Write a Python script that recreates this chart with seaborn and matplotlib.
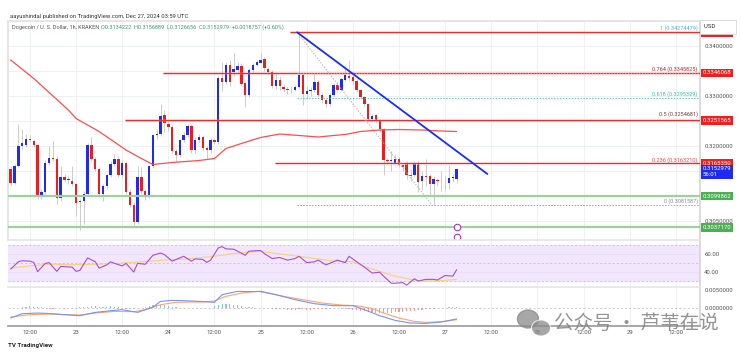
import numpy as np
import pandas as pd
import matplotlib
matplotlib.use("Agg")
import matplotlib.pyplot as plt
import matplotlib.transforms as mtransforms
from matplotlib.patches import Ellipse
import seaborn as sns

sns.set_theme(style="white")
plt.rcParams['font.family'] = ['Roboto', 'Noto Sans CJK SC', 'DejaVu Sans']

# DOGE/USD 1h candles, 22 Dec 07:00 -> 27 Dec 03:00 (index 0..116)
opens = [0.3155, 0.3127, 0.3161, 0.3200, 0.3203, 0.3215, 0.3210, 0.3202, 0.3099, 0.3109,
         0.3167, 0.3177, 0.3175, 0.3097, 0.3139, 0.3132, 0.3131, 0.3124, 0.3088, 0.3090,
         0.3105, 0.3203, 0.3174, 0.3155, 0.3104, 0.3121, 0.3142, 0.3165, 0.3174, 0.3142,
         0.3166, 0.3109, 0.3083, 0.3049, 0.3139, 0.3111, 0.3100, 0.3160, 0.3222, 0.3224,
         0.3262, 0.3245, 0.3238, 0.3190, 0.3182, 0.3212, 0.3223, 0.3240, 0.3192, 0.3213,
         0.3219, 0.3197, 0.3192, 0.3213, 0.3208, 0.3337, 0.3329, 0.3362, 0.3349, 0.3353,
         0.3360, 0.3325, 0.3302, 0.3352, 0.3363, 0.3367, 0.3373, 0.3355, 0.3349, 0.3320,
         0.3333, 0.3319, 0.3314, 0.3312, 0.3313, 0.3319, 0.3342, 0.3305, 0.3310, 0.3312,
         0.3328, 0.3302, 0.3293, 0.3284, 0.3303, 0.3322, 0.3313, 0.3333, 0.3341, 0.3338,
         0.3330, 0.3311, 0.3298, 0.3284, 0.3254, 0.3261, 0.3251, 0.3234, 0.3172, 0.3170,
         0.3167, 0.3174, 0.3162, 0.3165, 0.3142, 0.3142, 0.3167, 0.3130, 0.3141, 0.3140,
         0.3124, 0.3133, 0.3131, 0.3130, 0.3126, 0.3136, 0.3134]
highs = [0.3160, 0.3165, 0.3245, 0.3235, 0.3225, 0.3222, 0.3215, 0.3205, 0.3115, 0.3172,
         0.3200, 0.3210, 0.3180, 0.3160, 0.3145, 0.3140, 0.3160, 0.3127, 0.3095, 0.3110,
         0.3207, 0.3219, 0.3178, 0.3158, 0.3125, 0.3145, 0.3170, 0.3185, 0.3180, 0.3172,
         0.3170, 0.3115, 0.3088, 0.3160, 0.3158, 0.3115, 0.3163, 0.3225, 0.3232, 0.3285,
         0.3272, 0.3250, 0.3242, 0.3195, 0.3215, 0.3228, 0.3244, 0.3244, 0.3218, 0.3224,
         0.3222, 0.3200, 0.3216, 0.3216, 0.3340, 0.3368, 0.3368, 0.3372, 0.3385, 0.3368,
         0.3365, 0.3328, 0.3355, 0.3367, 0.3372, 0.3385, 0.3378, 0.3358, 0.3352, 0.3348,
         0.3340, 0.3325, 0.3318, 0.3320, 0.3322, 0.34274, 0.3346, 0.3320, 0.3318, 0.3345,
         0.3332, 0.3306, 0.3297, 0.3306, 0.3326, 0.3328, 0.3336, 0.3360, 0.3372, 0.3342,
         0.3334, 0.3314, 0.3300, 0.3286, 0.3265, 0.3264, 0.3254, 0.3237, 0.3176, 0.3190,
         0.3185, 0.3178, 0.3165, 0.3170, 0.3155, 0.3170, 0.3170, 0.3150, 0.3175, 0.3145,
         0.3140, 0.3137, 0.3150, 0.3140, 0.3162, 0.3145, 0.3157]
lows = [0.3122, 0.3124, 0.3158, 0.3195, 0.3198, 0.3208, 0.3198, 0.3095, 0.3095, 0.3105,
        0.3162, 0.3170, 0.3085, 0.3090, 0.3128, 0.3125, 0.3120, 0.3060, 0.3032, 0.3045,
        0.3100, 0.3170, 0.3150, 0.3098, 0.3090, 0.3115, 0.3138, 0.3160, 0.3138, 0.3138,
        0.3105, 0.3078, 0.3043, 0.3045, 0.3105, 0.3092, 0.3097, 0.3156, 0.3215, 0.3220,
        0.3228, 0.3230, 0.3186, 0.3170, 0.3178, 0.3208, 0.3218, 0.3186, 0.3186, 0.3208,
        0.3192, 0.3175, 0.3186, 0.3204, 0.3204, 0.3309, 0.3325, 0.3320, 0.3340, 0.3348,
        0.3320, 0.3279, 0.3298, 0.3348, 0.3360, 0.3365, 0.3350, 0.3344, 0.3316, 0.3315,
        0.3312, 0.3308, 0.3305, 0.3306, 0.3309, 0.3316, 0.3282, 0.3295, 0.3300, 0.3308,
        0.3298, 0.3287, 0.3278, 0.3280, 0.3299, 0.3308, 0.3310, 0.3330, 0.3332, 0.3325,
        0.3308, 0.3294, 0.3280, 0.3250, 0.3250, 0.3247, 0.3229, 0.3143, 0.3165, 0.3150,
        0.3163, 0.3158, 0.3150, 0.3135, 0.3130, 0.3138, 0.3109, 0.3112, 0.3120, 0.3100,
        0.30816, 0.3120, 0.3110, 0.3112, 0.3115, 0.3128, 0.3127]
closes = [0.3127, 0.3161, 0.3201, 0.3207, 0.3215, 0.3212, 0.3202, 0.3099, 0.3109, 0.3167,
          0.3177, 0.3175, 0.3097, 0.3139, 0.3132, 0.3134, 0.3124, 0.3087, 0.3090, 0.3105,
          0.3203, 0.3174, 0.3155, 0.3104, 0.3121, 0.3142, 0.3165, 0.3174, 0.3142, 0.3166,
          0.3109, 0.3083, 0.3049, 0.3139, 0.3111, 0.3100, 0.3160, 0.3222, 0.3224, 0.3260,
          0.3246, 0.3238, 0.3190, 0.3182, 0.3212, 0.3223, 0.3240, 0.3192, 0.3213, 0.3219,
          0.3197, 0.3192, 0.3213, 0.3208, 0.3337, 0.3329, 0.3362, 0.3329, 0.3355, 0.3360,
          0.3324, 0.3302, 0.3352, 0.3363, 0.3367, 0.3372, 0.3355, 0.3349, 0.3320, 0.3332,
          0.3320, 0.3314, 0.3312, 0.3313, 0.3319, 0.3342, 0.3305, 0.3310, 0.3312, 0.3328,
          0.3302, 0.3293, 0.3284, 0.3303, 0.3322, 0.3313, 0.3333, 0.3341, 0.3336, 0.3330,
          0.3312, 0.3298, 0.3284, 0.3254, 0.3261, 0.3251, 0.3234, 0.3172, 0.3171, 0.3172,
          0.3175, 0.3162, 0.3159, 0.3142, 0.3141, 0.3167, 0.3129, 0.3141, 0.3139, 0.3124,
          0.3133, 0.3131, 0.3130, 0.3131, 0.3136, 0.3139, 0.3153]

# 100 SMA (read at a few candles)
ma_idx = [0, 6, 15, 17, 23, 30, 34, 37, 42, 49, 53, 56, 60, 65, 70, 75, 80, 84, 87, 91, 96, 101, 107, 112, 116]
ma_vals = [0.3372, 0.3335, 0.3272, 0.3255, 0.3229, 0.3192, 0.3175, 0.3163, 0.3167, 0.3171, 0.3175,
           0.3195, 0.3205, 0.3217, 0.3224, 0.3221, 0.3218, 0.3221, 0.3223, 0.3229, 0.3232, 0.3233,
           0.3232, 0.3230, 0.3229]

# RSI(14) and its MA
rsi_idx = [0, 2, 3, 5, 6, 7, 9, 10, 12, 13, 16, 17, 18, 20, 22, 23, 25, 26, 27, 29, 30, 32, 33, 35,
           37, 39, 40, 42, 44, 45, 47, 48, 50, 51, 52, 54, 55, 56, 58, 61, 62, 65, 66, 68, 70, 72,
           74, 75, 77, 79, 80, 82, 84, 85, 87, 88, 90, 92, 94, 96, 97, 99, 100, 102, 103, 105, 106,
           108, 110, 111, 113, 115, 116]
rsi_vals = [43.2, 51.4, 52.5, 52.1, 50.7, 40.4, 49.6, 50.4, 40.7, 46.1, 45.4, 40.7, 41.8, 55.7, 51.4,
            44.3, 47.9, 51.4, 49.6, 46.8, 49.6, 40.0, 49.6, 48.6, 58.6, 61.1, 59.3, 52.1, 55.7, 57.5,
            52.1, 54.6, 53.9, 50.7, 53.2, 66.8, 68.2, 65.7, 65.4, 58.6, 63.2, 63.9, 60.4, 55.0, 56.1,
            53.2, 55.0, 57.5, 50.4, 51.4, 53.2, 47.9, 51.4, 53.2, 50.4, 57.5, 51.4, 45.4, 38.9, 39.7,
            35.4, 27.5, 27.5, 28.2, 25.4, 32.5, 30.0, 31.8, 31.8, 31.1, 36.1, 35.4, 42.5]
rsi_ma_idx = [0, 5, 10, 16, 22, 28, 34, 40, 47, 53, 59, 65, 71, 78, 84, 89, 92, 96, 100, 104, 106, 110, 113, 116]
rsi_ma_vals = [44.3, 46.8, 48.6, 48.2, 48.6, 49.6, 51.4, 53.2, 55.0, 57.5, 61.1, 62.9, 59.6, 55.7,
               52.1, 51.4, 46.1, 40.7, 35.4, 31.8, 30.0, 30.0, 30.7, 31.8]

# MACD(12, 26, 9)
macd_idx = [0, 3, 7, 11, 14, 18, 22, 26, 29, 33, 37, 39, 42, 45, 49, 53, 55, 59, 63, 65, 69, 74, 79,
            84, 89, 92, 96, 100, 104, 108, 112, 116]
macd_vals = [-0.00278, -0.00158, -0.00140, -0.00158, -0.00186, -0.00214, -0.00122, -0.00075,
             -0.00047, -0.00122, 0.00027, 0.00184, 0.00212, 0.00203, 0.00184, 0.00157, 0.00370,
             0.00462, 0.00453, 0.00462, 0.00370, 0.00231, 0.00120, 0.00064, 0.00064, -0.00047,
             -0.00214, -0.00344, -0.00417, -0.00427, -0.00390, -0.00306]
signal_idx = [0, 5, 10, 14, 18, 22, 27, 32, 35, 39, 43, 47, 50, 53, 56, 60, 64, 66, 71, 76, 81, 86,
              90, 94, 97, 101, 105, 108, 112, 116]
signal_vals = [-0.00250, -0.00186, -0.00167, -0.00186, -0.00195, -0.00140, -0.00094, -0.00103,
               -0.00047, 0.00092, 0.00157, 0.00166, 0.00166, 0.00194, 0.00323, 0.00416, 0.00462,
               0.00434, 0.00323, 0.00231, 0.00139, 0.00083, 0.00064, -0.00011, -0.00140, -0.00278,
               -0.00372, -0.00400, -0.00381, -0.00325]
hist_e4 = [-1, -0.5, 0, 3, 4, 5, 4, 3, 2, -1, -2, -2, -1, -1, -2, -1, 0,
           1, 2, 3, 4, 5, 5, 4, 3, 4, 5, 3, 2, -1, -2, -3, -2, -1, 0, 2,
           5, 8, 9, 8, 7, 5, 3, 2, 1, 1, 0, -1, -1, 0, 0, 1, 1,
           5, 9, 12, 11, 10, 8, 7, 5, 4, 3, 2, 1, 0, 0,
           -1, -2, -3, -4, -4, -5, -5, -5, -4, -4, -5, -5, -4, -3, -3, -2, -2, -1, -1, -2,
           -3, -4, -5, -6, -7, -8, -10, -12, -14, -15, -15, -14, -13, -12, -11, -10, -9, -8,
           -7, -6, -5, -4, -3, -2, -1, 0, 1, 2, 3, 4]

# drawings
fib_labels = ['1 (0.34274479)', '0.764 (0.3345825)', '0.618 (0.3295329)', '0.5 (0.3254681)',
              '0.236 (0.3163210)', '0 (0.3081587)']
fib_prices = [0.34274479, 0.3345825, 0.3295329, 0.3254681, 0.3163210, 0.3081587]
fib_colors = ['#5aa9e6', '#b02a2a', '#3fbf9f', '#7a3b3b', '#e04848', '#8c8c8c']
fib_start = 74.5
res_prices = [0.34274479, 0.3346068, 0.3251565, 0.3165350]
res_start = [72.7, 39.6, 29.7, 68.7]
sup_prices = [0.3099862, 0.3037170]
trend_x = [74.5, 124.0]
trend_y = [0.34274, 0.3144]
diag_x = [74.5, 109.6]
diag_y = [0.34274, 0.30816]
last_price = 0.3152979

time_ticks = [5, 17, 29, 41, 53, 65, 77, 89, 101, 113, 125, 137, 149, 161, 173]
time_labels = ['12:00', '23', '12:00', '24', '12:00', '25', '12:00', '26', '12:00', '27',
               '12:00', '28', '12:00', '29', '12:00']

df = pd.DataFrame({'i': np.arange(len(closes)), 'open': opens, 'high': highs,
                   'low': lows, 'close': closes})
df['up'] = df['close'] >= df['open']
df['bottom'] = df[['open', 'close']].min(axis=1)
df['body'] = (df['close'] - df['open']).abs().clip(lower=0.00008)

W, H = 741, 354
fig = plt.figure(figsize=(W / 100, H / 100), dpi=100)
fig.patch.set_facecolor('white')


def rect(x0, y0, x1, y1):
    return [x0 / W, 1 - y1 / H, (x1 - x0) / W, (y1 - y0) / H]


ax = fig.add_axes(rect(8, 21, 700, 240))
ax_rsi = fig.add_axes(rect(8, 240, 700, 287), sharex=ax)
ax_macd = fig.add_axes(rect(8, 287, 700, 326), sharex=ax)
xmin, xmax = -0.7, 179.3
grid_c = '#eff0f2'
lab_c = '#555555'
fs = 4.3

for a in (ax, ax_rsi, ax_macd):
    a.set_facecolor('white')
    for s in a.spines.values():
        s.set_visible(False)
    a.spines['right'].set_visible(True)
    a.spines['right'].set_color('#d4d4d4')
    a.spines['right'].set_linewidth(1.2)
    a.yaxis.tick_right()
    a.tick_params(axis='y', labelsize=fs, colors=lab_c, length=0, pad=3)
    a.tick_params(axis='x', length=0)
    for t in time_ticks:
        a.axvline(t, color=grid_c, lw=0.7, zorder=0)

ax.spines['top'].set_visible(True)
ax.spines['top'].set_color('#e3e3e3')
ax.spines['left'].set_visible(True)
ax.spines['left'].set_color('#e3e3e3')
ax_rsi.spines['top'].set_visible(True)
ax_rsi.spines['top'].set_color('#e6e6e6')
ax_macd.spines['top'].set_visible(True)
ax_macd.spines['top'].set_color('#e6e6e6')
ax_macd.spines['bottom'].set_visible(True)
ax_macd.spines['bottom'].set_color('#9a9a9a')
ax_macd.spines['bottom'].set_linewidth(1.2)

# ---- price pane ----
ax.set_xlim(xmin, xmax)
ax.set_ylim(0.3012, 0.3450)
yt = np.round(np.arange(0.305, 0.3451, 0.005), 3)
ax.set_yticks(yt)
ax.set_yticklabels([f'{v:.7f}' if v in (0.305, 0.32, 0.33, 0.34) else '' for v in yt])
for v in yt:
    ax.axhline(v, color=grid_c, lw=0.7, zorder=0)

ax.vlines(df['i'], df['low'], df['high'], color='#c4c4c4', lw=0.6, zorder=2)
ax.bar(df['i'], df['body'], bottom=df['bottom'], width=0.62,
       color=np.where(df['up'], '#1f2bf5', '#ee1c1c'), linewidth=0, zorder=3)

sns.lineplot(x=ma_idx, y=ma_vals, ax=ax, color='#ff4d4d', lw=0.9, zorder=4)

for p, s in zip(res_prices, res_start):
    ax.hlines(p, s, xmax, color='#ff8080', lw=2.0, alpha=0.35, zorder=4)
    ax.hlines(p, s, xmax, color='#f22a2a', lw=0.8, zorder=4)
for p in sup_prices:
    ax.axhline(p, color='#9bd29d', lw=1.6, zorder=4)

for lab, p, c in zip(fib_labels, fib_prices, fib_colors):
    if lab.startswith('0 ') or lab.startswith('0.618'):
        ax.hlines(p, fib_start, xmax, color=c, lw=0.7, ls=(0, (1.5, 1.5)), alpha=0.8, zorder=4)
    elif not lab.startswith('1 '):
        ax.hlines(p, fib_start, xmax, color='white', lw=0.5, ls=(0, (1.5, 2.5)), alpha=0.7, zorder=5)
    ax.text(xmax - 0.6, p + 0.00025, lab, ha='right', va='bottom', fontsize=4.0, color=c, zorder=6)

ax.plot(diag_x, diag_y, color='#b5b5b5', lw=0.7, ls=(0, (1.5, 1.5)), zorder=4)
ax.plot(trend_x, trend_y, color='#1a2cff', lw=1.3, zorder=5)

blend = mtransforms.blended_transform_factory(ax.transAxes, ax.transData)
box_kw = dict(transform=blend, fontsize=fs, color='white', va='center', ha='left',
              clip_on=False, zorder=10)
ax.text(1.004, res_prices[0], f'{res_prices[0]:.7f}',
        bbox=dict(boxstyle='square,pad=0.3', fc='#f01f1f', ec='none'), **box_kw)
for p in res_prices[1:]:
    ax.text(1.004, p, f'{p:.7f}', bbox=dict(boxstyle='square,pad=0.3', fc='#f01f1f', ec='none'), **box_kw)
for p in sup_prices:
    ax.text(1.004, p, f'{p:.7f}', bbox=dict(boxstyle='square,pad=0.3', fc='#4caf50', ec='none'), **box_kw)
ax.text(1.004, last_price - 0.0004, f'{last_price:.7f}\n56:01', linespacing=1.1,
        bbox=dict(boxstyle='square,pad=0.3', fc='#1f2bf5', ec='none'), **box_kw)
ax.text(1.006, 0.3438, 'USD' + '\u2007' * 5, transform=blend, fontsize=fs, color='#333333',
        va='center', ha='left', clip_on=False, zorder=11,
        bbox=dict(boxstyle='square,pad=0.7', fc='white', ec='#d0d0d0', lw=0.5))

ax.scatter([116, 116], [0.3038, 0.3018], s=22, facecolor='white', edgecolor='#9c27b0',
           linewidth=0.7, zorder=7, clip_on=False)
ax.set_xlabel('')
ax.set_ylabel('')
ax.tick_params(axis='x', labelbottom=False)

# ---- RSI pane ----
ax_rsi.set_ylim(23.3, 75.6)
ax_rsi.axhspan(30, 70, color='#f1e6fb', zorder=0)
for v in (70, 50, 30):
    ax_rsi.axhline(v, color='#c7b3d6', lw=0.5, ls=(0, (3, 3)), zorder=1)
ax_rsi.set_yticks([40, 60])
ax_rsi.set_yticklabels(['40.00', '60.00'])
for v in (40, 60):
    ax_rsi.axhline(v, color='#e8dcf3', lw=0.5, zorder=1)
sns.lineplot(x=rsi_ma_idx, y=rsi_ma_vals, ax=ax_rsi, color='#f8d27a', lw=0.8, zorder=3)
sns.lineplot(x=rsi_idx, y=rsi_vals, ax=ax_rsi, color='#a44fd6', lw=0.8, zorder=4)
ax_rsi.set_xlabel('')
ax_rsi.set_ylabel('')
ax_rsi.tick_params(axis='x', labelbottom=False)

# ---- MACD pane ----
ax_macd.set_ylim(-0.0050, 0.00583)
ax_macd.axhline(0, color='#b8b8b8', lw=0.5, ls=(0, (3, 3)), zorder=1)
ax_macd.set_yticks([0, 0.005])
ax_macd.set_yticklabels(['0.0000000', '0.0050000'])
hist = np.array(hist_e4) * 1e-4
hcol = np.where(hist >= 0, '#7fd3c6', '#f59a9a')
ax_macd.bar(np.arange(len(hist)), hist, width=0.3, color=hcol, linewidth=0, zorder=2)
sns.lineplot(x=signal_idx, y=signal_vals, ax=ax_macd, color='#ffa36b', lw=0.8, zorder=3)
sns.lineplot(x=macd_idx, y=macd_vals, ax=ax_macd, color='#7393ff', lw=0.8, zorder=4)
ax_macd.set_xlabel('')
ax_macd.set_ylabel('')
ax_macd.set_xticks(time_ticks)
ax_macd.set_xticklabels(time_labels)
ax_macd.tick_params(axis='x', labelsize=fs, colors=lab_c, pad=3)
ax_macd.set_xlim(xmin, xmax)

# ---- header, footer, watermark ----
fig.text(10 / W, 1 - 16.5 / H, 'aayushindal published on TradingView.com, Dec 27, 2024 03:59 UTC',
         fontsize=4.2, color='#333333', va='center')
fig.text(12 / W, 1 - 27.5 / H, 'Dogecoin / U. S. Dollar, 1h, KRAKEN', fontsize=4.0,
         color='#555555', va='center')
fig.text(101 / W, 1 - 27.5 / H,
         'O0.3134222  H0.3156889  L0.3126656  C0.3152979  +0.0018757 (+0.60%)',
         fontsize=4.0, color='#3c9a74', va='center')
fig.text(8 / W, 1 - 345 / H, 'TV TradingView', fontsize=4.4, color='#222222',
         fontweight='bold', va='center')

ov = fig.add_axes([0, 0, 1, 1], zorder=20)
ov.set_xlim(0, W)
ov.set_ylim(H, 0)
ov.axis('off')
ov.add_patch(Ellipse((528, 319), 21, 18, color='#8a8a8a', alpha=0.75))
ov.add_patch(Ellipse((541, 328), 19, 16, color='#8a8a8a', alpha=0.75, ec='white', lw=0.8))
ov.text(636, 323, '公众号 · 芦苇在说', fontsize=14, color='#7a7a7a', alpha=0.8,
        ha='center', va='center', family=['Noto Sans CJK SC', 'DejaVu Sans'])

fig.savefig('out.png', dpi=100, facecolor='white')
